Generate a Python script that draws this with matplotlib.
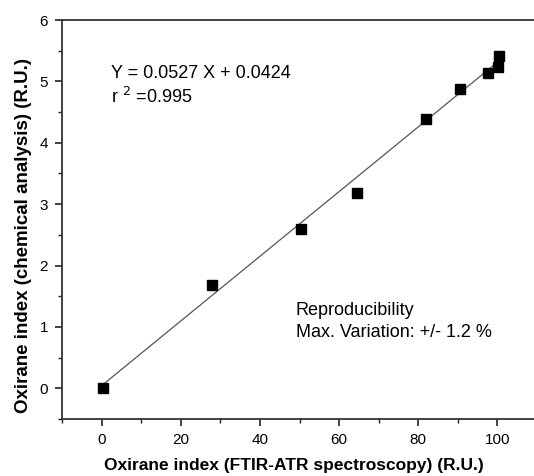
import numpy as np
import matplotlib.pyplot as plt
from matplotlib.ticker import MultipleLocator

plt.rcParams['font.family'] = ['Liberation Sans', 'DejaVu Sans']

# data
ftir = [0.3, 27.8, 50.3, 64.6, 82.0, 90.6, 97.6, 100.2, 100.4]
chem = [0.0, 1.69, 2.59, 3.18, 4.39, 4.87, 5.14, 5.23, 5.42]
slope = 0.0527
intercept = 0.0424

fig = plt.figure(figsize=(5.34, 4.76), dpi=100)
# axes runs a little past the right edge, like the cropped original
ax = fig.add_axes([62/534, 1 - 419/476, 475/534, 399/476])

xfit = np.array([0, 100])
ax.plot(xfit, slope*xfit + intercept, color='#555555', lw=0.9, zorder=1)
ax.plot(ftir, chem, 's', color='black', ms=6.5, zorder=2)

ax.set_xlim(-10, 110)
ax.set_ylim(-0.5, 6)
ax.xaxis.set_major_locator(MultipleLocator(20))
ax.xaxis.set_minor_locator(MultipleLocator(10))
ax.yaxis.set_major_locator(MultipleLocator(1))
ax.yaxis.set_minor_locator(MultipleLocator(0.5))
ax.tick_params(which='major', direction='out', length=5, width=1.2, labelsize=11, pad=5, color='#222222')
ax.tick_params(which='minor', direction='out', length=3, width=1.0, color='#222222')

for s in ['left', 'bottom', 'top']:
    ax.spines[s].set_linewidth(1.3)
    ax.spines[s].set_color('#333333')
ax.spines['right'].set_visible(False)

ax.set_xlabel('Oxirane index (FTIR-ATR spectroscopy) (R.U.)', fontsize=12.5, fontweight='bold')
ax.set_ylabel('Oxirane index (chemical analysis) (R.U.)', fontsize=13.5, fontweight='bold')
ax.xaxis.set_label_coords(0.488, -0.097)
ax.yaxis.set_label_coords(-0.063, 0.461)

ax.text(2.5, 5.05, 'Y = 0.0527 X + 0.0424', fontsize=13, va='baseline')
ax.text(2.5, 4.64, r'r $^{2}$ =0.995', fontsize=13, va='baseline')
ax.text(49.0, 1.19, 'Reproducibility', fontsize=13, va='baseline')
ax.text(49.0, 0.83, 'Max. Variation: +/- 1.2 %', fontsize=13, va='baseline')

fig.savefig('out.png', dpi=100)
